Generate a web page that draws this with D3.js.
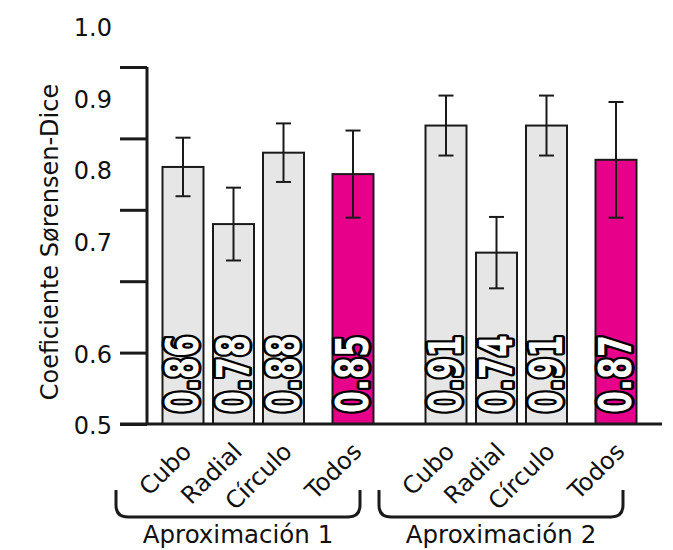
<!DOCTYPE html>
<html>
<head>
<meta charset="utf-8">
<script src="https://cdn.jsdelivr.net/npm/d3@7"></script>
<style>
  body { margin: 0; background: #fff; }
  svg { display: block; }
</style>
</head>
<body>
<div id="chart"></div>
<script>
const groups = ["Aproximación 1", "Aproximación 2"];
const categories = ["Cubo", "Radial", "Círculo", "Todos"];
const means = [
  [0.86, 0.78, 0.88, 0.85],
  [0.918, 0.74, 0.918, 0.87]
];
const errors = [
  [0.041, 0.051, 0.041, 0.061],
  [0.042, 0.05, 0.042, 0.081]
];
const valueLabels = [
  ["0.86", "0.78", "0.88", "0.85"],
  ["0.91", "0.74", "0.91", "0.87"]
];
const yTicks = [0.5, 0.6, 0.7, 0.8, 0.9, 1.0];
const yLabel = "Coeficiente Sørensen-Dice";

const W = 673, H = 550;
const svg = d3.select("#chart").append("svg").attr("width", W).attr("height", H);

const y = d3.scaleLinear().domain([0.5, 1.0]).range([424, 67]);
const xGroup = d3.scaleOrdinal().domain(groups).range([183, 446]);
const xCat = d3.scaleOrdinal().domain(categories).range([0, 50.5, 100.5, 170]);
const barW = 41;
const ink = "#1a1a1a";
const font = "'DejaVu Sans', sans-serif";

const rows = [];
groups.forEach((g, gi) => {
  categories.forEach((c, ci) => {
    rows.push({ g, c, v: means[gi][ci], e: errors[gi][ci], label: valueLabels[gi][ci] });
  });
});
const cx = d => xGroup(d.g) + xCat(d.c);

// bars
svg.append("g").selectAll("rect").data(rows).join("rect")
  .attr("x", d => cx(d) - barW / 2)
  .attr("y", d => y(d.v))
  .attr("width", barW)
  .attr("height", d => y(0.5) - y(d.v))
  .attr("fill", d => d.c === "Todos" ? "#e6008a" : "#e6e6e6")
  .attr("stroke", ink)
  .attr("stroke-width", 2);

// error bars
const eb = svg.append("g").attr("stroke", ink).attr("stroke-width", 2);
eb.selectAll("line.v").data(rows).join("line").attr("class", "v")
  .attr("x1", cx).attr("x2", cx)
  .attr("y1", d => y(d.v + d.e)).attr("y2", d => y(d.v - d.e));
eb.selectAll("line.t").data(rows).join("line").attr("class", "t")
  .attr("x1", d => cx(d) - 7.5).attr("x2", d => cx(d) + 7.5)
  .attr("y1", d => y(d.v + d.e)).attr("y2", d => y(d.v + d.e));
eb.selectAll("line.b").data(rows).join("line").attr("class", "b")
  .attr("x1", d => cx(d) - 7.5).attr("x2", d => cx(d) + 7.5)
  .attr("y1", d => y(d.v - d.e)).attr("y2", d => y(d.v - d.e));

// value labels inside bars
svg.append("g").selectAll("text").data(rows).join("text")
  .attr("transform", d => `translate(${cx(d)},${y(0.5) - 11}) rotate(-90) scale(0.72,1)`)
  .attr("dominant-baseline", "central")
  .attr("font-family", font)
  .attr("font-weight", "bold")
  .attr("font-size", 44)
  .attr("fill", "#fff")
  .attr("stroke", "#000")
  .attr("stroke-width", 6)
  .attr("stroke-linejoin", "round")
  .attr("paint-order", "stroke")
  .text(d => d.label);

// y axis
const yAxis = svg.append("g")
  .attr("transform", "translate(147,0)")
  .call(d3.axisLeft(y).tickValues(yTicks).tickSize(27).tickPadding(8).tickFormat(d3.format(".1f")));
yAxis.select(".domain").attr("stroke", ink).attr("stroke-width", 3).attr("d", `M0,${y(1.0)}V${y(0.5)}`);
yAxis.selectAll(".tick line").attr("stroke", ink).attr("stroke-width", 3);
yAxis.selectAll(".tick text")
  .attr("font-family", font)
  .attr("font-size", 24)
  .attr("fill", "#111")
  .attr("dy", d => d > 0.65 ? "-1.3em" : "0.4em");

// baseline
svg.append("line")
  .attr("x1", 120).attr("x2", 662)
  .attr("y1", y(0.5)).attr("y2", y(0.5))
  .attr("stroke", ink).attr("stroke-width", 3);

// y label
svg.append("text")
  .attr("transform", "translate(50,242) rotate(-90)")
  .attr("text-anchor", "middle")
  .attr("dominant-baseline", "central")
  .attr("font-family", font)
  .attr("font-size", 24)
  .attr("fill", "#111")
  .text(yLabel);

// category labels
svg.append("g").selectAll("text").data(rows).join("text")
  .attr("transform", d => `translate(${cx(d) + 10},453) rotate(-45)`)
  .attr("text-anchor", "end")
  .attr("font-family", font)
  .attr("font-size", 24)
  .attr("fill", "#111")
  .text(d => d.c);

// group braces and labels
const braceL = g => xGroup(g) - 67;
const braceR = g => xGroup(g) + 177;
const bTop = 490, bBot = 517, r = 12;
svg.append("g").selectAll("path").data(groups).join("path")
  .attr("d", g => `M${braceL(g)},${bTop}V${bBot - r}Q${braceL(g)},${bBot} ${braceL(g) + r},${bBot}` +
    `H${braceR(g) - r}Q${braceR(g)},${bBot} ${braceR(g)},${bBot - r}V${bTop}`)
  .attr("fill", "none")
  .attr("stroke", ink)
  .attr("stroke-width", 3);
svg.append("g").selectAll("text").data(groups).join("text")
  .attr("x", g => (braceL(g) + braceR(g)) / 2)
  .attr("y", 543)
  .attr("text-anchor", "middle")
  .attr("font-family", font)
  .attr("font-size", 24.5)
  .attr("fill", "#111")
  .text(g => g);
</script>
</body>
</html>
